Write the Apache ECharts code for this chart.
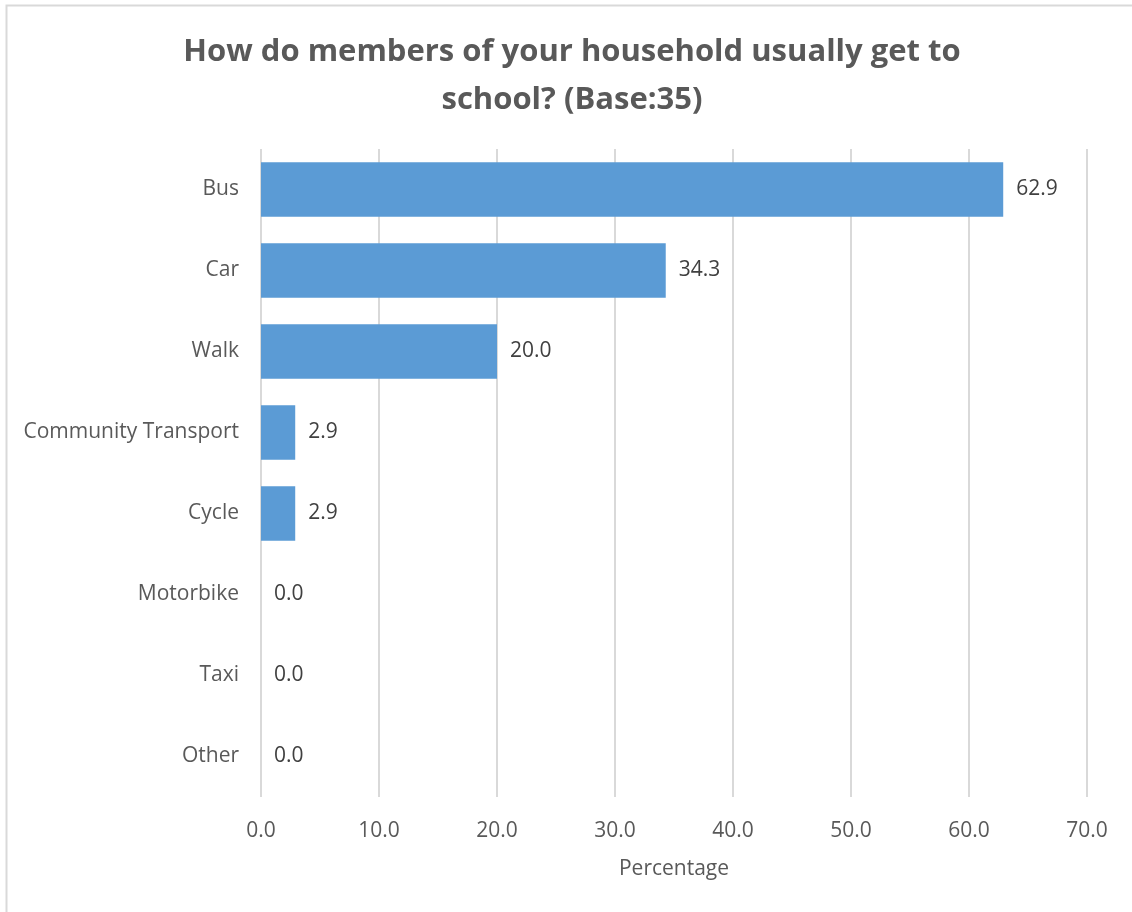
<!DOCTYPE html>
<html><head><meta charset="utf-8">
<script src="https://cdn.jsdelivr.net/npm/echarts@6/dist/echarts.min.js"></script>
<style>html,body{margin:0;padding:0;background:#fff}#c{width:1132px;height:912px}</style>
</head><body><div id="c"></div>
<script>
const categories = ["Bus","Car","Walk","Community Transport","Cycle","Motorbike","Taxi","Other"];
const values = [62.9,34.3,20.0,2.9,2.9,0.0,0.0,0.0];
const xTicks = {min:0,max:70,interval:10};
const titleLines = ["How do members of your household usually get to","school? (Base:35)"];
const xName = "Percentage";

const titleStyle = {fontFamily:'Open Sans',fontWeight:'bold',fontSize:31,fill:'#595959',textAlign:'center',textVerticalAlign:'middle'};
const chart = echarts.init(document.getElementById('c'));
chart.setOption({
  backgroundColor:'#fff',
  animation:false,
  graphic:[
    {type:'rect',shape:{x:6.5,y:5.5,width:1200,height:1000},style:{fill:'none',stroke:'#d9d9d9',lineWidth:2}},
    {type:'text',x:572,y:52,style:Object.assign({text:titleLines[0]},titleStyle)},
    {type:'text',x:572,y:100,style:Object.assign({text:titleLines[1]},titleStyle)}
  ],
  grid:{left:261,right:45,top:149,bottom:115},
  xAxis:{type:'value',min:xTicks.min,max:xTicks.max,interval:xTicks.interval,
    name:xName,nameLocation:'middle',nameGap:62,
    nameTextStyle:{fontFamily:'Open Sans',fontSize:21,color:'#595959'},
    axisLine:{show:false},axisTick:{show:false},
    axisLabel:{formatter:v=>v.toFixed(1),fontFamily:'Open Sans',fontSize:21,color:'#595959',margin:24},
    splitLine:{lineStyle:{color:'#d9d9d9',width:2}}},
  yAxis:{type:'category',data:categories,inverse:true,
    axisLine:{show:false},axisTick:{show:false},
    axisLabel:{fontFamily:'Open Sans',fontSize:21,color:'#595959',margin:22,padding:[5,0,0,0]}},
  series:[{type:'bar',data:values,barCategoryGap:'33%',
    itemStyle:{color:'#5b9bd5'},
    label:{show:true,position:'right',distance:13,formatter:p=>p.value.toFixed(1),
      padding:[5,0,0,0],
      fontFamily:'Open Sans',fontSize:21,color:'#404040'}}]
});
</script></body></html>
